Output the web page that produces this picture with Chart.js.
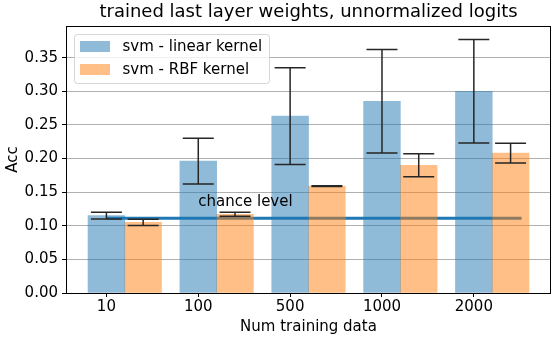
<!DOCTYPE html>
<html>
<head>
<meta charset="utf-8">
<script src="https://cdn.jsdelivr.net/npm/chart.js@4.4.0/dist/chart.umd.min.js"></script>
<style>
  html, body { margin: 0; padding: 0; background: #fff; }
  #wrap { width: 558px; height: 341px; }
</style>
</head>
<body>
<div id="wrap"><canvas id="accChart" width="558" height="341"></canvas></div>
<script>
// categories on the x axis (num training data)
const categories = ['10', '100', '500', '1000', '2000'];

// svm - linear kernel: mean accuracy and error (half-height of error bar)
const linearAcc = [0.115, 0.196, 0.263, 0.285, 0.300];
const linearErr = [0.005, 0.034, 0.072, 0.077, 0.077];

// svm - RBF kernel
const rbfAcc = [0.105, 0.117, 0.159, 0.190, 0.208];
const rbfErr = [0.0048, 0.003, 0.0005, 0.017, 0.0146];

// chance level line (x in category units, y in accuracy)
const chanceX = [0, 4.52];
const chanceY = [0.111, 0.111];

const FONT = 'DejaVu Sans';
const BAR_SHIFT = 0.4; // second series sits 0.4 category units to the right

const errorBars = {
    id: 'errorBars',
    afterDraw: (chart) => {
        const ctx = chart.ctx;
        const xs = chart.scales.x;
        const ys = chart.scales.y;
        const area = chart.chartArea;
        const series = [
            { acc: linearAcc, err: linearErr, shift: 0 },
            { acc: rbfAcc, err: rbfErr, shift: BAR_SHIFT }
        ];

        ctx.save();
        // error bars
        ctx.strokeStyle = '#262626';
        ctx.lineWidth = 1.5;
        series.forEach(s => {
            s.acc.forEach((v, i) => {
                const x = xs.getPixelForValue(i + s.shift);
                const yTop = ys.getPixelForValue(v + s.err[i]);
                const yBot = ys.getPixelForValue(v - s.err[i]);
                ctx.beginPath();
                ctx.moveTo(x, yTop);
                ctx.lineTo(x, yBot);
                ctx.moveTo(x - 15.5, yTop);
                ctx.lineTo(x + 15.5, yTop);
                ctx.moveTo(x - 15.5, yBot);
                ctx.lineTo(x + 15.5, yBot);
                ctx.stroke();
            });
        });

        // chance level label
        ctx.fillStyle = '#000';
        ctx.font = '15px "' + FONT + '"';
        ctx.textAlign = 'left';
        ctx.textBaseline = 'alphabetic';
        ctx.fillText('chance level', xs.getPixelForValue(1), ys.getPixelForValue(0.13));

        // axes frame
        ctx.strokeStyle = '#000';
        ctx.lineWidth = 1;
        ctx.strokeRect(Math.round(area.left) + 0.5, Math.round(area.top) + 0.5,
            Math.round(area.right - area.left) - 1, Math.round(area.bottom - area.top));

        // legend (inside the axes, upper left)
        const bars = chart.data.datasets.filter(d => d.type === 'bar');
        const bx = area.left + 8, by = area.top + 8, bw = 195, bh = 49;
        ctx.beginPath();
        ctx.roundRect(bx + 0.5, by + 0.5, bw, bh, 3);
        ctx.fillStyle = 'rgba(255,255,255,0.8)';
        ctx.fill();
        ctx.strokeStyle = 'rgba(204,204,204,0.8)';
        ctx.stroke();
        ctx.textBaseline = 'middle';
        bars.forEach((d, k) => {
            const cy = by + 12.5 + k * 23;
            ctx.fillStyle = d.backgroundColor;
            ctx.fillRect(bx + 6, cy - 5.5, 30, 11);
            ctx.fillStyle = '#000';
            ctx.fillText(d.label, bx + 48.5, cy + 1);
        });
        ctx.restore();
    }
};

const ctx = document.getElementById('accChart').getContext('2d');
new Chart(ctx, {
    data: {
        datasets: [{
            type: 'bar',
            label: 'svm - linear kernel',
            data: linearAcc.map((v, i) => ({ x: i, y: v })),
            backgroundColor: 'rgba(31, 119, 180, 0.5)',
            grouped: false,
            barPercentage: 1,
            categoryPercentage: 1
        }, {
            type: 'bar',
            label: 'svm - RBF kernel',
            data: rbfAcc.map((v, i) => ({ x: i + BAR_SHIFT, y: v })),
            backgroundColor: 'rgba(255, 127, 14, 0.5)',
            grouped: false,
            barPercentage: 1,
            categoryPercentage: 1
        }, {
            type: 'line',
            label: 'chance level',
            data: chanceX.map((x, i) => ({ x: x, y: chanceY[i] })),
            borderColor: '#1f77b4',
            borderWidth: 3,
            pointRadius: 0,
            fill: false
        }]
    },
    options: {
        responsive: false,
        animation: false,
        devicePixelRatio: 1,
        layout: { padding: { left: 0, right: 7, top: 0, bottom: 0 } },
        plugins: {
            legend: { display: false },
            tooltip: { enabled: false },
            title: {
                display: true,
                fullSize: false,
                text: 'trained last layer weights, unnormalized logits',
                color: '#000',
                font: { family: FONT, size: 18, weight: 'normal', lineHeight: 1.2 },
                padding: { top: 2, bottom: 2.4 }
            }
        },
        scales: {
            x: {
                type: 'linear',
                min: -0.44,
                max: 4.84,
                offset: false,
                afterBuildTicks: (scale) => {
                    scale.ticks = categories.map((c, i) => ({ value: i }));
                },
                afterFit: (scale) => { scale.height = 48; },
                ticks: {
                    autoSkip: false,
                    maxRotation: 0,
                    padding: 1,
                    color: '#000',
                    font: { family: FONT, size: 15 },
                    callback: (v) => categories[v]
                },
                grid: {
                    offset: false,
                    drawOnChartArea: false,
                    drawTicks: true,
                    tickLength: 4,
                    tickColor: '#000'
                },
                border: { display: false },
                title: {
                    display: true,
                    text: 'Num training data',
                    color: '#000',
                    font: { family: FONT, size: 15 },
                    padding: { top: 0, bottom: 5 }
                }
            },
            y: {
                min: 0,
                max: 0.397,
                z: 1,
                afterFit: (scale) => { scale.width = 66; },
                ticks: {
                    stepSize: 0.05,
                    includeBounds: false,
                    padding: 4,
                    color: '#000',
                    font: { family: FONT, size: 15 },
                    callback: (v) => v.toFixed(2)
                },
                grid: {
                    color: '#b0b0b0',
                    lineWidth: 1,
                    tickLength: 4,
                    tickColor: '#000'
                },
                border: { display: false },
                title: {
                    display: true,
                    text: 'Acc',
                    color: '#000',
                    font: { family: FONT, size: 15 },
                    padding: { top: 4, bottom: 0 }
                }
            }
        }
    },
    plugins: [errorBars]
});
</script>
</body>
</html>
